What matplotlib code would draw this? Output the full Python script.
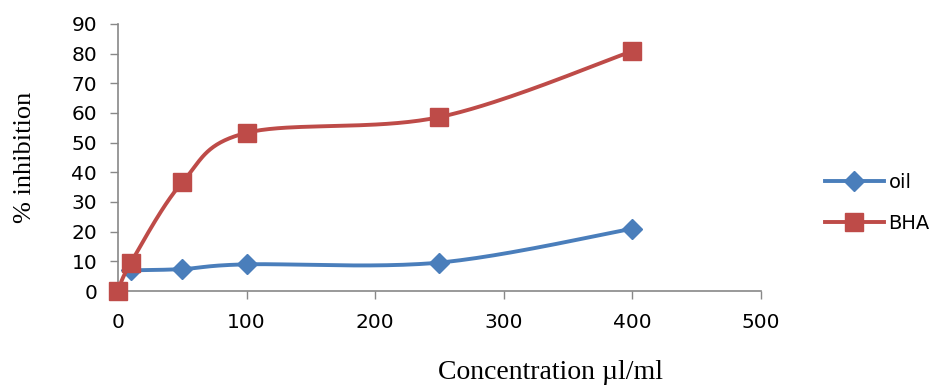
import matplotlib
matplotlib.use("Agg")
import matplotlib.pyplot as plt
import numpy as np

oil_x = [10, 50, 100, 250, 400]
oil_y = [7.0, 7.4, 9.0, 9.6, 21.0]
bha_x = [0, 10, 50, 100, 250, 400]
bha_y = [0.0, 9.5, 36.6, 53.3, 58.6, 80.8]
x_ticks = [0, 100, 200, 300, 400, 500]
y_ticks = [0, 10, 20, 30, 40, 50, 60, 70, 80, 90]


def smooth(xs, ys, n=40):
    # catmull-rom through the points, like excel's smoothed line
    p = np.column_stack([xs, ys]).astype(float)
    p = np.vstack([p[0], p, p[-1]])
    out = []
    t = np.linspace(0, 1, n)[:, None]
    for i in range(1, len(p) - 2):
        p0, p1, p2, p3 = p[i - 1], p[i], p[i + 1], p[i + 2]
        c = 0.5 * ((2 * p1) + (-p0 + p2) * t + (2 * p0 - 5 * p1 + 4 * p2 - p3) * t ** 2
                   + (-p0 + 3 * p1 - 3 * p2 + p3) * t ** 3)
        out.append(c)
    c = np.vstack(out)
    return c[:, 0], c[:, 1]


blue = "#4A7EBB"
red = "#BE4B48"

fig = plt.figure(figsize=(9.36, 3.85), dpi=100)
ax = fig.add_axes([0.126, 0.244, 0.687, 0.694])

sx, sy = smooth(oil_x, oil_y)
ax.plot(sx, sy, color=blue, lw=2.8, zorder=2)
ax.plot(oil_x, oil_y, ls="none", marker="D", ms=10, color=blue, zorder=3)
sx, sy = smooth(bha_x, bha_y)
ax.plot(sx, sy, color=red, lw=2.8, zorder=4)
ax.plot(bha_x, bha_y, ls="none", marker="s", ms=12.5, color=red, zorder=5)

# legend proxies
ax.plot([], [], color=blue, lw=2.8, marker="D", ms=10, label="oil")
ax.plot([], [], color=red, lw=2.8, marker="s", ms=12.5, label="BHA")
ax.legend(loc="center left", bbox_to_anchor=(1.1, 0.33), frameon=False,
          fontsize=14, handlelength=3.0, labelspacing=1.1, handletextpad=0.25,
          borderpad=0, borderaxespad=0)

ax.set_xlim(0, 500)
ax.set_ylim(0, 90)
ax.set_xticks(x_ticks)
ax.set_yticks(y_ticks)
ax.tick_params(labelsize=14.5, colors="#888888", labelcolor="black", length=6, width=1)
ax.tick_params(axis="x", pad=10)
ax.tick_params(axis="y", pad=9)
for s in ["top", "right"]:
    ax.spines[s].set_visible(False)
for s in ["left", "bottom"]:
    ax.spines[s].set_color("#888888")
    ax.spines[s].set_linewidth(1.2)
for ln in ax.lines:
    ln.set_clip_on(False)

fig.text(0.027, 0.592, "% inhibition", rotation=90, ha="center", va="center",
         family="Liberation Serif", fontsize=19)
fig.text(0.588, 0.033, "Concentration \u00b5l/ml", ha="center", va="center",
         family="Liberation Serif", fontsize=20)

fig.savefig("out.png", dpi=100)
